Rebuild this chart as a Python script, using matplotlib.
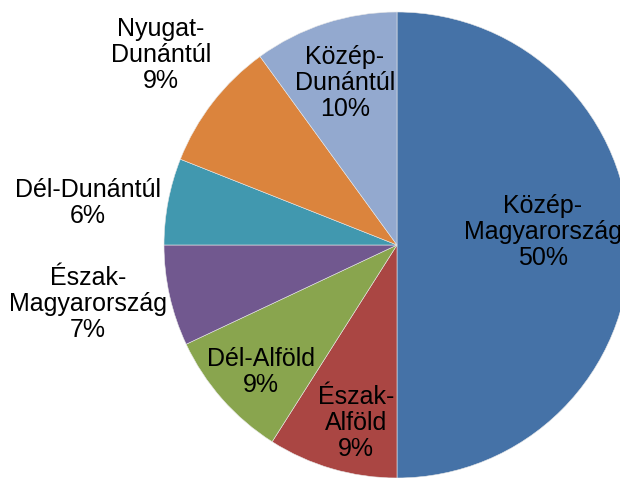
import matplotlib
matplotlib.use("Agg")
import matplotlib.pyplot as plt

regions = ["Közép-\nMagyarország", "Észak-\nAlföld", "Dél-Alföld", "Észak-\nMagyarország",
           "Dél-Dunántúl", "Nyugat-\nDunántúl", "Közép-\nDunántúl"]
shares = [50, 9, 9, 7, 6, 9, 10]
colors = ["#4572A7", "#AA4643", "#89A54E", "#71588F", "#4198AF", "#DB843D", "#93A9CF"]

# label positions (in pie-radius units, relative to pie centre)
label_pos = [(0.625, 0.056), (-0.176, -0.764), (-0.584, -0.545), (-1.326, -0.253),
             (-1.326, 0.180), (-1.013, 0.815), (-0.223, 0.695)]

W, H = 620, 478
cx, cy, R = 397, 245, 233

fig = plt.figure(figsize=(W / 100, H / 100), dpi=100)
ax = fig.add_axes([0, 0, 1, 1])
ax.pie(shares, colors=colors, startangle=90, counterclock=False, radius=1,
       wedgeprops=dict(edgecolor="#e8e8e8", linewidth=0.4))
for name, val, (x, y) in zip(regions, shares, label_pos):
    ax.text(x, y, f"{name}\n{val}%", ha="center", va="center", fontsize=18,
            family="Liberation Sans", color="black", linespacing=1.12)

ax.set_xlim(-cx / R, (W - cx) / R)
ax.set_ylim(-(H - cy) / R, cy / R)
ax.set_aspect("auto")
ax.axis("off")
fig.savefig("out.png", dpi=100)
